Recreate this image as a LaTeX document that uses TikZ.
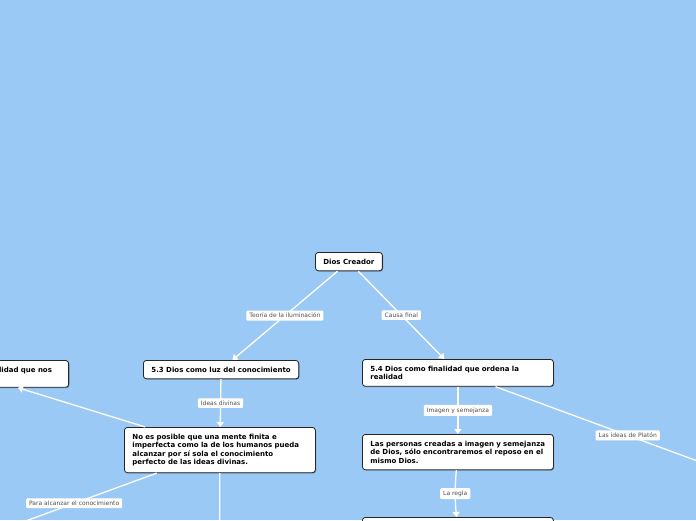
\documentclass[tikz,border=0pt]{standalone}
\usepackage{fontspec}
\setmainfont{DejaVu Sans}
\usetikzlibrary{arrows.meta, positioning, shadows}
\definecolor{fondo}{RGB}{155,201,246}
\definecolor{etiqueta}{RGB}{80,80,80}

\begin{document}
\begin{tikzpicture}[x=1pt, y=-1pt,
  tema/.style={draw=black!85, fill=white, rounded corners=3pt, line width=0.8pt,
    font=\fontsize{7}{8.5}\selectfont\bfseries, align=left,
    inner xsep=8pt, inner ysep=6.5pt,
    drop shadow={shadow xshift=0.8pt, shadow yshift=-0.8pt, opacity=0.35, fill=black}},
  ancho/.style={text width=175pt},
  enlace/.style={draw=white, line width=1.3pt, -{Triangle[width=7pt, length=5pt]}},
  etiq/.style={fill=white, text=etiqueta, font=\fontsize{6}{7}\selectfont,
    inner xsep=3pt, inner ysep=2.5pt, rounded corners=1pt}
]
\useasboundingbox (0,0) rectangle (696,520);
\fill[fondo] (0,0) rectangle (696,520);
\clip (0,0) rectangle (696,520);

% temas
\node[tema, anchor=north west] (creador) at (315,252) {Dios Creador};
\node[tema, anchor=north west] (luz) at (143,360) {5.3 Dios como luz del conocimiento};
\node[tema, ancho, anchor=north west] (fin) at (362,359)
  {5.4 Dios como finalidad que ordena la\\ realidad};
\node[tema, ancho, anchor=north east] (izq) at (69,360)
  {5.2 Dios como la primera realidad que nos\\ trasciende todo lo material};
\node[tema, ancho, anchor=north west] (mente) at (124,427)
  {No es posible que una mente finita e\\ imperfecta como la de los humanos pueda\\
   alcanzar por sí sola el conocimiento\\ perfecto de las ideas divinas.};
\node[tema, ancho, anchor=north west] (personas) at (362,434)
  {Las personas creadas a imagen y semejanza\\ de Dios, sólo encontraremos el reposo en el\\ mismo Dios.};
\node[tema, ancho, anchor=north west, minimum height=30pt] (regla) at (362,517) {};

% extremos fuera del cuadro
\coordinate (alcanzar) at (-40,545);
\coordinate (abajo) at (219.5,560);
\coordinate (platon) at (760,484);

% enlaces
\draw[enlace] (creador) -- node[etiq] {Teoría de la iluminación} (luz);
\draw[enlace] (creador) -- node[etiq] {Causa final} (fin);
\draw[enlace] (luz) -- node[etiq] {Ideas divinas} (mente);
\draw[enlace] (fin) -- node[etiq] {Imagen y semejanza} (personas);
\draw[enlace] (personas) to[bend right=5] node[etiq] {La regla} (regla);
\draw[enlace] (fin) -- node[etiq] {Las ideas de Platón} (platon);
\draw[enlace] (mente) -- (izq);
\draw[enlace] (mente) -- node[etiq, pos=0.42] {Para alcanzar el conocimiento} (alcanzar);
\draw[enlace] (mente) -- (abajo);
\end{tikzpicture}
\end{document}
